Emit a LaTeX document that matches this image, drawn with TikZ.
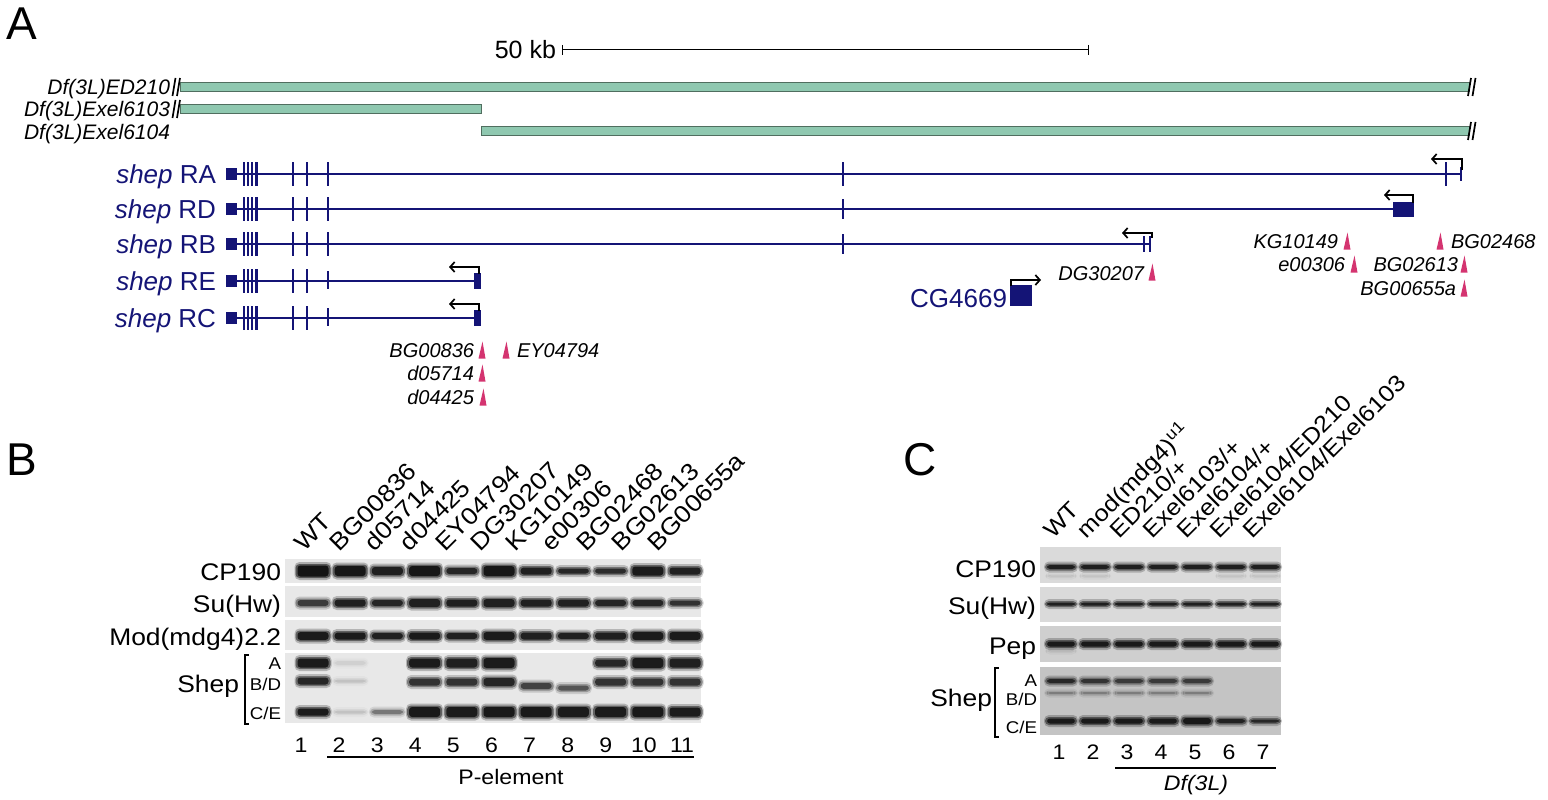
\documentclass[tikz,border=0pt]{standalone}
\usepackage{fontspec}
\setmainfont{Liberation Sans}
\newfontfamily\wfont[FakeStretch=1.1]{Liberation Sans}
\usetikzlibrary{arrows.meta}
\definecolor{navy}{RGB}{20,20,118}
\definecolor{dfill}{RGB}{143,200,176}
\definecolor{dline}{RGB}{80,110,95}
\definecolor{pink}{RGB}{212,52,112}
\definecolor{blotB}{RGB}{232,232,232}
\definecolor{blotC}{RGB}{218,218,218}
\definecolor{blotCs}{RGB}{196,196,196}
\newcommand\myfs[1]{\fontsize{#1}{#1}\selectfont}
\newcommand\bnd[5]{%
  \pgfmathsetmacro\halo{#5*0.25}%
  \pgfmathsetmacro\haloo{#5*0.5}%
  \fill[black,opacity=\halo,rounded corners=5] ({#1-#3/2-2},{#2-#4/2-3}) rectangle ({#1+#3/2+2},{#2+#4/2+3});
  \fill[black,opacity=\haloo,rounded corners=4] ({#1-#3/2-1},{#2-#4/2-1}) rectangle ({#1+#3/2+1},{#2+#4/2+1});
  \fill[black!92,opacity=#5,rounded corners=3] ({#1-#3/2+1},{#2-#4/2+0.5}) rectangle ({#1+#3/2-1},{#2+#4/2-0.5});}
\newcommand\geneleft[2]{%
  \fill[navy] (226,{#1-6}) rectangle (237,{#1+6});
  \draw[gene] (236,#1) -- (#2,#1);
  \foreach \t in {244,248,252}{\draw[navy,line width=1.8] (\t,{#1-12}) -- (\t,{#1+12});}
  \draw[navy,line width=2.8] (256.5,{#1-12}) -- (256.5,{#1+12});
  \foreach \t in {293,307}{\draw[navy,line width=1.6] (\t,{#1-12}) -- (\t,{#1+12});}}
\newcommand\ins[2]{\fill[pink] ({#1-3.5},{#2+8.5}) -- ({#1+3.5},{#2+8.5}) -- ({#1+0.5},{#2-8.5}) -- cycle;}
\begin{document}
\begin{tikzpicture}[x=1pt,y=-1pt,
  every node/.style={inner sep=0pt,outer sep=0pt},
  gene/.style={navy,line width=2.8},
  dbar/.style={fill=dfill,draw=dline,line width=1},
  tss/.style={black,line width=1.7,-{Straight Barb[length=4.5pt,width=10pt]}},
  sl/.style={black,line width=1.7},
  lab/.style={font=\wfont\myfs{24}},
  sub/.style={font=\wfont\myfs{17}},
  num/.style={font=\wfont\myfs{21}},
  coll/.style={font=\wfont\myfs{23},rotate=45,anchor=base west},
  insl/.style={font=\myfs{20}\itshape},
]
\useasboundingbox (0,0) rectangle (1548,800);
% ---------------- Panel A ----------------
\node[font=\myfs{46},anchor=base west] (pA) at (6,40) {A};
\node[font=\myfs{25},anchor=base east] (kb) at (556,59) {50 kb};
\draw[black,line width=1] (562,50) -- (1088,50);
\draw[black,line width=1] (562,45) -- (562,55) (1088,45) -- (1088,55);
% deficiency bars
\node[font=\myfs{21}\itshape,anchor=base east] (dfa) at (170,95) {Df(3L)ED210};
\node[font=\myfs{21}\itshape,anchor=base east] (dfb) at (170,117) {Df(3L)Exel6103};
\node[font=\myfs{21}\itshape,anchor=base east] (dfc) at (170,139) {Df(3L)Exel6104};
\draw[dbar] (180,82.5) rectangle (1469,91.5);
\draw[dbar] (180,104.5) rectangle (481,113.5);
\draw[dbar] (481,126.5) rectangle (1469,135.5);
\foreach \yy in {87,109}{\draw[sl] (172.5,{\yy+9}) -- (175.5,{\yy-9}) (177,{\yy+9}) -- (180,{\yy-9});}
\foreach \yy in {87,131}{\draw[sl] (1468,{\yy+9}) -- (1471,{\yy-9}) (1472.5,{\yy+9}) -- (1475.5,{\yy-9});}
% transcripts
\node[font=\myfs{26},text=navy,anchor=base east] (tRA) at (216,183) {\textit{shep} RA};
\node[font=\myfs{26},text=navy,anchor=base east] (tRD) at (216,218) {\textit{shep} RD};
\node[font=\myfs{26},text=navy,anchor=base east] (tRB) at (216,253) {\textit{shep} RB};
\node[font=\myfs{26},text=navy,anchor=base east] (tRE) at (216,290) {\textit{shep} RE};
\node[font=\myfs{26},text=navy,anchor=base east] (tRC) at (216,327) {\textit{shep} RC};
% RA
\geneleft{174}{1461}
\draw[navy,line width=2.8] (328,162) -- (328,186);
\draw[navy,line width=2.6] (843,162) -- (843,186);
\draw[navy,line width=2.2] (1446,162) -- (1446,186);
\draw[navy,line width=2.2] (1461,167) -- (1461,181);
\draw[tss] (1462,170) -- (1462,159) -- (1431,159);
% RD
\geneleft{209}{1394}
\draw[navy,line width=2.8] (328,197) -- (328,221);
\draw[navy,line width=1.8] (843,199) -- (843,219);
\fill[navy] (1393,202) rectangle (1414,217);
\draw[tss] (1413,203) -- (1413,195) -- (1384,195);
% RB
\geneleft{244}{1150}
\draw[navy,line width=2.8] (328,232) -- (328,256);
\draw[navy,line width=1.8] (843,234) -- (843,254);
\draw[navy,line width=2.2] (1144,236) -- (1144,252);
\draw[navy,line width=2.2] (1150,236) -- (1150,252);
\draw[tss] (1152,238) -- (1152,233) -- (1122,233);
% RE
\geneleft{281}{476}
\draw[navy,line width=2.4] (328,271) -- (328,289);
\fill[navy] (474,273) rectangle (480.5,289);
\draw[tss] (479,274) -- (479,267) -- (449,267);
% RC
\geneleft{318}{476}
\draw[navy,line width=2.4] (328,308) -- (328,326);
\fill[navy] (474,310) rectangle (480.5,326);
\draw[tss] (479,311) -- (479,304) -- (449,304);
% CG4669
\node[font=\myfs{26},text=navy,anchor=base east] (cg) at (1007,307) {CG4669};
\fill[navy] (1010,285) rectangle (1032,306);
\draw[tss] (1011,286) -- (1011,280) -- (1041,280);
% insertions
\node[insl,anchor=base east] (i1) at (474,357) {BG00836};
\node[insl,anchor=base west] (i2) at (517,357) {EY04794};
\node[insl,anchor=base east] (i3) at (474,380) {d05714};
\node[insl,anchor=base east] (i4) at (474,404) {d04425};
\node[insl,anchor=base east] (i5) at (1144,280) {DG30207};
\node[insl,anchor=base east] (i6) at (1338,248) {KG10149};
\node[insl,anchor=base east] (i7) at (1345,271) {e00306};
\node[insl,anchor=base west] (i8) at (1451,248) {BG02468};
\node[insl,anchor=base east] (i9) at (1458,271) {BG02613};
\node[insl,anchor=base east] (i10) at (1456,295) {BG00655a};
\ins{482}{350}\ins{506}{350}\ins{482}{373}\ins{483}{397}
\ins{1152}{272}\ins{1347}{241}\ins{1354}{264}\ins{1440}{241}\ins{1464}{264}\ins{1464}{288}
% ---------------- Panel B ----------------
\node[font=\myfs{46},anchor=base west] (pB) at (6,475) {B};
\foreach \i/\t in {1/WT,2/BG00836,3/d05714,4/d04425,5/EY04794,6/DG30207,7/KG10149,8/e00306,9/BG02468,10/BG02613,11/BG00655a}{
  \node[coll,font=\wfont\myfs{24}] (bc\i) at ({304+35.3*(\i-1)},552) {\t};
  \node[num,anchor=base] (bn\i) at ({301+38.1*(\i-1)},752) {\i};
}
\fill[blotB] (285,559) rectangle (701,583);
\fill[blotB] (285,586) rectangle (701,617);
\fill[blotB] (285,620) rectangle (701,650);
\fill[blotB] (285,653) rectangle (701,723);
\node[lab,anchor=base east] (bl1) at (281,580) {CP190};
\node[lab,anchor=base east] (bl2) at (281,612) {Su(Hw)};
\node[lab,anchor=base east] (bl3) at (281,645) {Mod(mdg4)2.2};
\node[lab,anchor=base east] (bl4) at (239,692) {Shep};
\draw[black,line width=1.5] (249,655) -- (245,655) -- (245,724) -- (249,724);
\node[sub,anchor=base east] (bs1) at (281,669) {A};
\node[sub,anchor=base east] (bs2) at (281,690) {B/D};
\node[sub,anchor=base east] (bs3) at (281,719) {C/E};
% CP190 bands
\foreach \i/\h/\o in {1/12/1,2/11/0.95,3/9/0.85,4/11/0.95,5/7/0.8,6/11/0.95,7/8/0.85,8/6/0.8,9/6/0.75,10/10/0.9,11/8/0.85}{\bnd{313+37.2*(\i-1)}{571}{33}{\h}{\o}}
\foreach \i/\h/\o in {1/7/0.65,2/8/0.85,3/7/0.8,4/9/0.85,5/8/0.85,6/9/0.85,7/8/0.85,8/8/0.85,9/7/0.8,10/7/0.8,11/6/0.7}{\bnd{313+37.2*(\i-1)}{603}{33}{\h}{\o}}
\foreach \i/\h/\o in {1/9/0.9,2/8/0.9,3/7/0.85,4/8/0.9,5/7/0.85,6/9/0.9,7/8/0.85,8/7/0.85,9/8/0.85,10/9/0.9,11/9/0.9}{\bnd{313+37.2*(\i-1)}{636}{33}{\h}{\o}}
% Shep A
\foreach \i/\h/\o in {1/10/0.9,2/5/0.06,4/10/0.9,5/10/0.85,6/11/0.9,9/8/0.8,10/11/0.9,11/10/0.85}{\bnd{313+37.2*(\i-1)}{663}{33}{\h}{\o}}
% Shep B/D
\foreach \i/\y/\h/\o in {1/681/8/0.8,2/681/4/0.1,4/682/8/0.7,5/682/8/0.7,6/682/9/0.8,7/686/7/0.6,8/688/6/0.5,9/682/8/0.7,10/682/8/0.7,11/682/8/0.7}{\bnd{313+37.2*(\i-1)}{\y}{33}{\h}{\o}}
% Shep C/E
\foreach \i/\h/\o in {1/8/0.9,2/4/0.1,3/5/0.35,4/11/0.92,5/11/0.9,6/11/0.92,7/11/0.92,8/11/0.9,9/11/0.9,10/11/0.92,11/10/0.9}{\bnd{313+37.2*(\i-1)}{712}{33}{\h}{\o}}
\draw[black,line width=1.6] (327,757) -- (694,757);
\node[num,anchor=base] (pel) at (511,784) {P-element};
% ---------------- Panel C ----------------
\node[font=\myfs{46},anchor=base west] (pC) at (903,475) {C};
\foreach \i/\t in {1/{WT},2/{mod(mdg4)\textsuperscript{u1}},3/{ED210/+},4/{Exel6103/+},5/{Exel6104/+},6/{Exel6104/ED210},7/{Exel6104/Exel6103}}{
  \node[coll] (cc\i) at ({1053+33.3*(\i-1)},539) {\t};
  \node[num,anchor=base] (cn\i) at ({1059+34*(\i-1)},759) {\i};
}
\fill[blotC] (1040,547) rectangle (1281,583);
\fill[blotC] (1040,587) rectangle (1281,622);
\fill[blotC!95!black] (1040,626) rectangle (1281,662);
\fill[blotCs] (1040,667) rectangle (1281,735);
\node[lab,anchor=base east] (cl1) at (1036,577) {CP190};
\node[lab,anchor=base east] (cl2) at (1036,614) {Su(Hw)};
\node[lab,anchor=base east] (cl3) at (1036,654) {Pep};
\node[lab,anchor=base east] (cl4) at (992,706) {Shep};
\draw[black,line width=1.5] (999,668) -- (995,668) -- (995,737) -- (999,737);
\node[sub,anchor=base east] (cs1) at (1037,686) {A};
\node[sub,anchor=base east] (cs2) at (1037,705) {B/D};
\node[sub,anchor=base east] (cs3) at (1037,733) {C/E};
\foreach \i in {1,...,7}{
  \bnd{1061+34*(\i-1)}{567}{30}{5}{0.85}
  \bnd{1061+34*(\i-1)}{604}{30}{4}{0.85}
  \bnd{1061+34*(\i-1)}{644}{30}{6}{0.9}
}
\foreach \i in {1,2,6,7}{\bnd{1061+34*(\i-1)}{576}{28}{1}{0.12}}
\bnd{1061}{651}{28}{1}{0.12}
\foreach \i/\o in {1/0.75,2/0.65,3/0.6,4/0.6,5/0.6}{
  \bnd{1061+34*(\i-1)}{681}{30}{5}{\o}
  \bnd{1061+34*(\i-1)}{693}{30}{3}{0.25}
}
\foreach \i/\o/\h in {1/0.9/6,2/0.9/6,3/0.9/6,4/0.9/6,5/0.92/7,6/0.8/5,7/0.75/4}{\bnd{1061+34*(\i-1)}{721}{30}{\h}{\o}}
\draw[black,line width=1.6] (1115,768) -- (1276,768);
\node[num,anchor=base,font=\wfont\myfs{21}\itshape] (df) at (1196,790) {Df(3L)};
\end{tikzpicture}
\end{document}
